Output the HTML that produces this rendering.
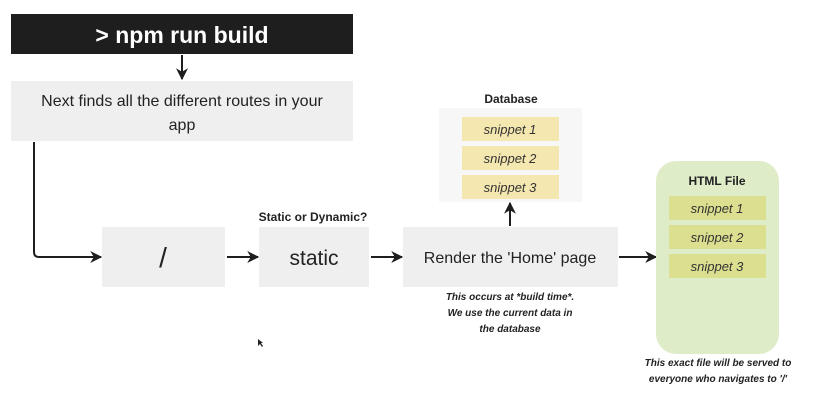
<!DOCTYPE html>
<html><head><meta charset="utf-8"><style>
html,body{margin:0;padding:0;background:#fff;width:822px;height:410px;overflow:hidden}
svg{display:block}
text{font-family:"Liberation Sans","DejaVu Sans",sans-serif}
</style></head><body>
<svg width="822" height="410" viewBox="0 0 822 410" xmlns="http://www.w3.org/2000/svg">
<defs>
<marker id="ah" viewBox="0 0 10 10" refX="9" refY="5" markerUnits="userSpaceOnUse" markerWidth="12" markerHeight="12" orient="auto"><path d="M0,0 L10,5 L0,10 L3,5 z" fill="#1e1e1e"/></marker>
</defs>
<rect x="11" y="14" width="342" height="40" fill="#1e1e1e"/>
<text x="182" y="43" font-size="23" font-weight="bold" fill="#fff" text-anchor="middle">&gt; npm run build</text>
<line x1="182" y1="55" x2="182" y2="79" stroke="#1e1e1e" stroke-width="2" marker-end="url(#ah)"/>
<rect x="11" y="81" width="342" height="60" fill="#efefef"/>
<text x="182" y="106" font-size="16" fill="#222" text-anchor="middle">Next finds all the different routes in your</text>
<text x="182" y="130" font-size="16" fill="#222" text-anchor="middle">app</text>
<path d="M34,142 L34,252 Q34,257 39,257 L101,257" fill="none" stroke="#1e1e1e" stroke-width="2" marker-end="url(#ah)"/>
<rect x="102" y="227" width="123" height="60" fill="#efefef"/>
<text x="163" y="267" font-size="28" fill="#222" text-anchor="middle">/</text>
<line x1="227" y1="257" x2="258" y2="257" stroke="#1e1e1e" stroke-width="2" marker-end="url(#ah)"/>
<text x="313" y="221" font-size="12" font-weight="bold" fill="#222" text-anchor="middle">Static or Dynamic?</text>
<rect x="259" y="227" width="110" height="60" fill="#efefef"/>
<text x="314" y="265" font-size="21" fill="#222" text-anchor="middle">static</text>
<line x1="371" y1="257" x2="402" y2="257" stroke="#1e1e1e" stroke-width="2" marker-end="url(#ah)"/>
<rect x="403" y="227" width="215" height="60" fill="#efefef"/>
<text x="510" y="263" font-size="16" fill="#222" text-anchor="middle">Render the 'Home' page</text>
<line x1="619" y1="257" x2="656" y2="257" stroke="#1e1e1e" stroke-width="2" marker-end="url(#ah)"/>
<line x1="510" y1="226" x2="510" y2="203" stroke="#1e1e1e" stroke-width="2" marker-end="url(#ah)"/>
<text x="511" y="103" font-size="12" font-weight="bold" fill="#222" text-anchor="middle">Database</text>
<rect x="439" y="108" width="143" height="94" fill="#f7f7f7"/>
<g font-size="13" font-style="italic" fill="#333" text-anchor="middle">
<rect x="462" y="117" width="97" height="24" fill="#f5e7b0"/><text x="510" y="134">snippet 1</text>
<rect x="462" y="146" width="97" height="24" fill="#f5e7b0"/><text x="510" y="163">snippet 2</text>
<rect x="462" y="175" width="97" height="24" fill="#f5e7b0"/><text x="510" y="192">snippet 3</text>
</g>
<rect x="656" y="161" width="123" height="193" rx="20" fill="#dfecc8"/>
<text x="717" y="185" font-size="12" font-weight="bold" fill="#222" text-anchor="middle">HTML File</text>
<g font-size="13" font-style="italic" fill="#333" text-anchor="middle">
<rect x="669" y="196" width="97" height="24" fill="#dcdf8f"/><text x="717" y="213">snippet 1</text>
<rect x="669" y="225" width="97" height="24" fill="#dcdf8f"/><text x="717" y="242">snippet 2</text>
<rect x="669" y="254" width="97" height="24" fill="#dcdf8f"/><text x="717" y="271">snippet 3</text>
</g>
<g font-size="10" font-weight="bold" font-style="italic" fill="#222" text-anchor="middle">
<text x="510" y="300">This occurs at *build time*.</text>
<text x="510" y="316">We use the current data in</text>
<text x="510" y="332">the database</text>
<text x="718" y="366">This exact file will be served to</text>
<text x="718" y="382">everyone who navigates to '/'</text>
</g>
<path d="M258,339 L258,346 L260,344 L262,347 L263,346 L261,343 L263,343 z" fill="#222"/>
</svg>
</body></html>
